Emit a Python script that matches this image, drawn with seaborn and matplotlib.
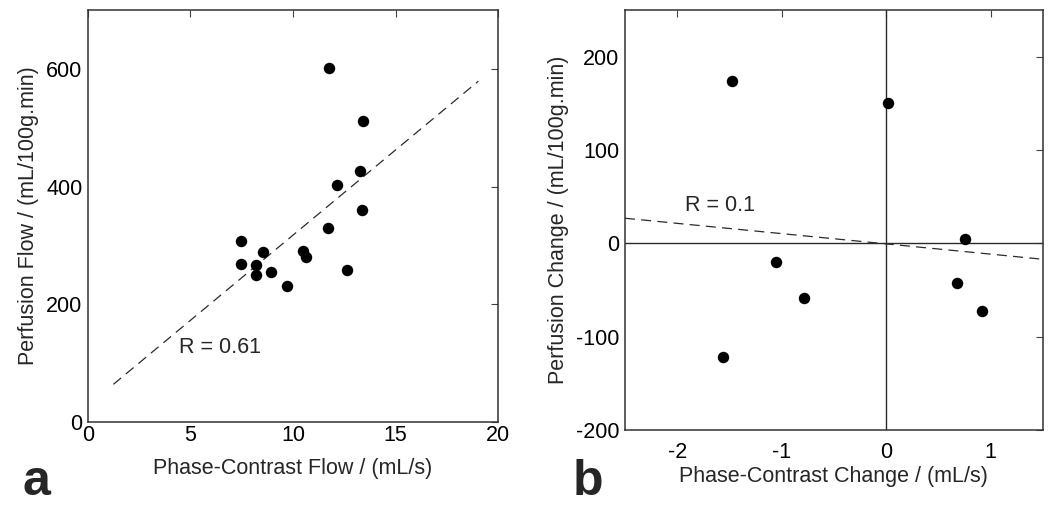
import numpy as np
import pandas as pd
import seaborn as sns
import matplotlib
matplotlib.use("Agg")
import matplotlib.pyplot as plt

sns.set_style("white")
plt.rcParams['font.family'] = ['Liberation Sans', 'DejaVu Sans']
plt.rcParams['axes.unicode_minus'] = False

# panel a: absolute flow
pc_flow = [11.77, 13.43, 13.27, 12.16, 13.37, 11.69, 7.46, 8.52, 10.47, 10.65,
           7.46, 8.18, 8.18, 8.93, 9.69, 12.65]
perf_flow = [601, 511, 427, 402, 360, 329, 307, 288, 291, 280,
             268, 266, 249, 254, 231, 258]
fit_a_x = [1.24, 19.04]
fit_a_y = [64, 579]

# panel b: change
pc_change = [-1.48, 0.02, 0.755, -1.05, -0.79, 0.68, 0.92, -1.56]
perf_change = [174, 151, 5, -20, -59, -42, -72, -122]
fit_b_x = [-2.5, 1.5]
fit_b_y = [27, -17]

dark = '#2b2b2b'
fs = 15.5

fig = plt.figure(figsize=(10.5, 5.07), dpi=100)
ax1 = fig.add_axes([0.0838, 0.1677, 0.3905, 0.8126])
ax2 = fig.add_axes([0.5952, 0.1519, 0.398, 0.828])

def style(ax, xpad):
    for s in ax.spines.values():
        s.set_color('#333333')
        s.set_linewidth(1.1)
    ax.tick_params(direction='in', length=5, width=0.8, color='#404040',
                   labelsize=fs, pad=4, top=True, right=True,
                   labelcolor='black')
    ax.tick_params(axis='x', pad=xpad)

# --- a ---
sns.lineplot(x=fit_a_x, y=fit_a_y, ax=ax1, color=dark, lw=0.9,
             linestyle=(0, (8, 5)))
sns.scatterplot(x=pc_flow, y=perf_flow, ax=ax1, color='black', s=68,
                edgecolor='black', linewidth=0, zorder=3)
ax1.set_xlim(0, 20)
ax1.set_ylim(0, 700)
ax1.set_xticks([0, 5, 10, 15, 20])
ax1.set_yticks([0, 200, 400, 600])
ax1.text(4.45, 127, 'R = 0.61', fontsize=fs, va='center', ha='left')
ax1.set_xlabel('Phase-Contrast Flow / (mL/s)', fontsize=fs, labelpad=9)
ax1.set_ylabel('Perfusion Flow / (mL/100g.min)', fontsize=fs, labelpad=5)
style(ax1, 2)

# --- b ---
ax2.axhline(0, color=dark, lw=1.0)
ax2.axvline(0, color=dark, lw=1.0)
sns.lineplot(x=fit_b_x, y=fit_b_y, ax=ax2, color=dark, lw=0.9,
             linestyle=(0, (8, 5)))
sns.scatterplot(x=pc_change, y=perf_change, ax=ax2, color='black', s=68,
                edgecolor='black', linewidth=0, zorder=3)
ax2.set_xlim(-2.5, 1.5)
ax2.set_ylim(-200, 250)
ax2.set_xticks([-2, -1, 0, 1])
ax2.set_yticks([-200, -100, 0, 100, 200])
ax2.text(-1.93, 41, 'R = 0.1', fontsize=fs, va='center', ha='left')
ax2.set_xlabel('Phase-Contrast Change / (mL/s)', fontsize=fs, labelpad=2)
ax2.set_ylabel('Perfusion Change / (mL/100g.min)', fontsize=fs, labelpad=5)
style(ax2, 9)

fig.text(23 / 1050, 1 - 495 / 507, 'a', fontsize=36, fontweight='bold',
         ha='left', va='baseline')
fig.text(573 / 1050, 1 - 495 / 507, 'b', fontsize=36, fontweight='bold',
         ha='left', va='baseline')

fig.savefig('out.png', dpi=100)
